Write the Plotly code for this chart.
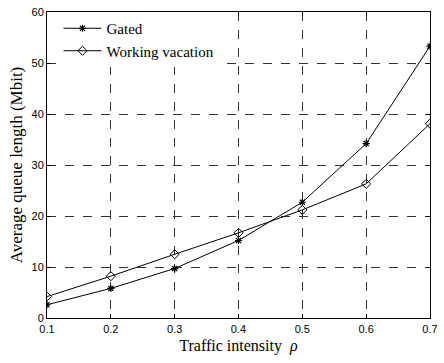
import plotly.graph_objects as go

rho = [0.1, 0.2, 0.3, 0.4, 0.5, 0.6, 0.7]
gated = [2.6, 5.8, 9.7, 15.2, 22.7, 34.2, 53.3]
working_vacation = [4.2, 8.2, 12.5, 16.7, 21.2, 26.3, 38.1]
x_ticks = [0.1, 0.2, 0.3, 0.4, 0.5, 0.6, 0.7]
y_ticks = [0, 10, 20, 30, 40, 50, 60]

SERIF = "Liberation Serif"
SANS = "Liberation Sans"

fig = go.Figure()
fig.add_trace(go.Scatter(
    x=rho, y=gated, name="Gated", mode="lines+markers",
    line=dict(color="black", width=1),
    marker=dict(symbol="asterisk-open", size=6, color="black",
                line=dict(color="black", width=1.2)),
))
fig.add_trace(go.Scatter(
    x=rho, y=working_vacation, name="Working vacation", mode="lines+markers",
    line=dict(color="black", width=1),
    marker=dict(symbol="diamond-open", size=7, color="black",
                line=dict(color="black", width=1)),
))

axis_common = dict(
    showline=True, linecolor="black", linewidth=1, mirror="ticks",
    ticks="inside", ticklen=4, tickcolor="black",
    showgrid=True, gridcolor="#333333", griddash="dash", gridwidth=1,
    zeroline=False,
    tickfont=dict(family=SANS, size=11, color="black"),
)

fig.update_xaxes(range=[0.1, 0.7], tickvals=x_ticks,
                 ticktext=[f"{v:.1f}" for v in x_ticks],
                 ticklabeloverflow="allow", ticklabelstandoff=1,
                 title=dict(text="Traffic intensity  <i>ρ</i>",
                            font=dict(family=SERIF, size=16, color="black"),
                            standoff=5),
                 **axis_common)
fig.update_yaxes(range=[0, 60], tickvals=y_ticks,
                 title=dict(text="Average queue length (Mbit)",
                            font=dict(family=SERIF, size=17, color="black"),
                            standoff=4),
                 **axis_common)

fig.update_layout(
    width=444, height=363,
    margin=dict(l=47, r=6, t=10, b=45),
    plot_bgcolor="white", paper_bgcolor="white",
    showlegend=True,
    legend=dict(x=0.03, y=1.0, xanchor="left", yanchor="top",
                bgcolor="white", borderwidth=0,
                font=dict(family=SERIF, size=15, color="black"),
                tracegroupgap=0, itemwidth=38),
)

fig.write_html("out.html")
